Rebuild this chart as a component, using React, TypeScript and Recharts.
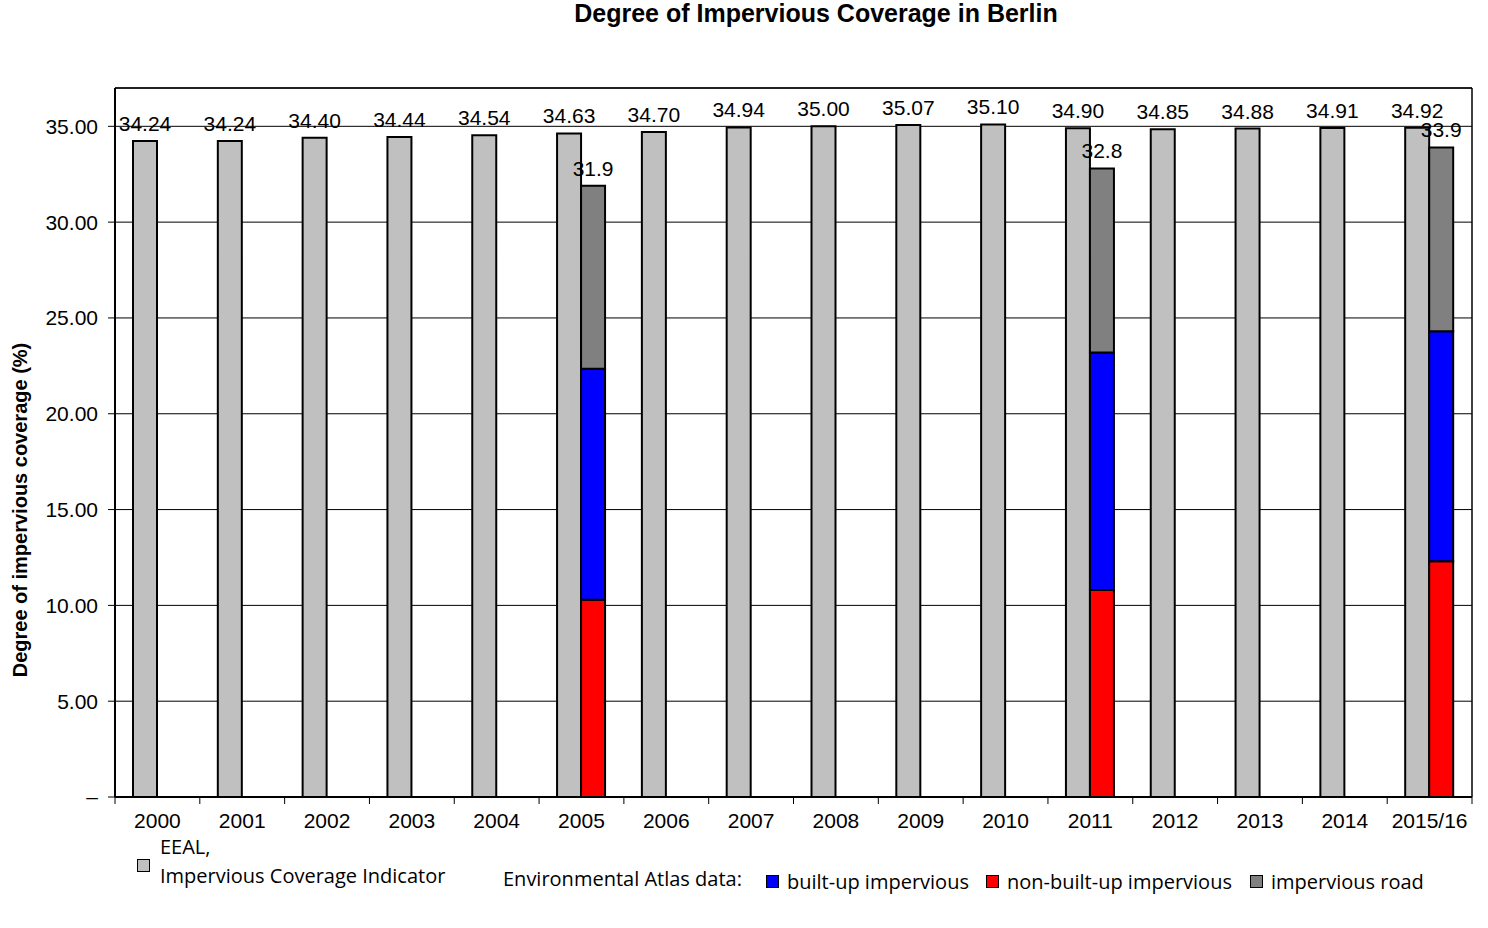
import React from 'react';
import {
  BarChart,
  Bar,
  XAxis,
  YAxis,
  CartesianGrid,
  ReferenceLine,
  LabelList,
} from 'recharts';

// EEAL impervious coverage indicator, one value per year
const years = [
  '2000', '2001', '2002', '2003', '2004', '2005', '2006', '2007',
  '2008', '2009', '2010', '2011', '2012', '2013', '2014', '2015/16',
];
const eeal = [
  34.24, 34.24, 34.4, 34.44, 34.54, 34.63, 34.7, 34.94,
  35.0, 35.07, 35.1, 34.9, 34.85, 34.88, 34.91, 34.92,
];

// Environmental Atlas survey years, split into three parts
const atlasYears = ['2005', '2011', '2015/16'];
const nonBuiltUp = [10.3, 10.8, 12.3];
const builtUp = [12.05, 12.4, 12.0];
const atlasTotal = [31.9, 32.8, 33.9];

const yTicks = [0, 5, 10, 15, 20, 25, 30, 35];

const data = years.map((year, i) => {
  const j = atlasYears.indexOf(year);
  if (j < 0) return { year, eeal: eeal[i] };
  return {
    year,
    eeal: eeal[i],
    nonBuiltUp: nonBuiltUp[j],
    builtUp: builtUp[j],
    road: +(atlasTotal[j] - nonBuiltUp[j] - builtUp[j]).toFixed(2),
    total: atlasTotal[j],
  };
});

const FONT = '"Liberation Sans", Arial, sans-serif';
const LEGEND_FONT = '"Open Sans", "Noto Sans", sans-serif';

// category tick: label centred, tick marks on the band boundaries
const YearTick = (props: any) => {
  const { x, y, payload, index, visibleTicksCount } = props;
  const half = payload?.offset ?? 42.4;
  const axisY = y - 8;
  const last = index === (visibleTicksCount ?? years.length) - 1;
  return (
    <g>
      <line x1={x - half} x2={x - half} y1={axisY} y2={axisY + 7} stroke="#000" strokeWidth={1} />
      {last && (
        <line x1={x + half} x2={x + half} y1={axisY} y2={axisY + 7} stroke="#000" strokeWidth={1} />
      )}
      <text x={x} y={axisY + 31} textAnchor="middle" fontSize={21} fontFamily={FONT} fill="#000">
        {payload.value}
      </text>
    </g>
  );
};

const Swatch = ({ color }: { color: string }) => (
  <span
    style={{
      display: 'inline-block',
      width: 11,
      height: 11,
      background: color,
      border: '1.5px solid #000',
    }}
  />
);

const legendText: React.CSSProperties = {
  fontFamily: LEGEND_FONT,
  fontSize: 20,
  lineHeight: '29px',
  whiteSpace: 'nowrap',
  color: '#000',
};

export default function App() {
  return (
    <div style={{ position: 'absolute', left: 0, top: 0, width: 1488, height: 928, background: '#fff' }}>
      <div style={{ position: 'absolute', left: 0, top: 0 }}>
        <BarChart
          width={1488}
          height={840}
          data={data}
          margin={{ top: 88, right: 15, bottom: 3, left: 0 }}
          barSize={24}
          barGap={0}
        >
          <CartesianGrid vertical={false} stroke="#000" strokeWidth={1} />
          <XAxis
            dataKey="year"
            height={40}
            axisLine={{ stroke: '#000', strokeWidth: 2 }}
            tickLine={false}
            tickSize={6}
            tickMargin={2}
            interval={0}
            tick={<YearTick />}
          />
          <YAxis
            width={115}
            domain={[0, 37]}
            ticks={yTicks}
            allowDataOverflow
            axisLine={{ stroke: '#000', strokeWidth: 2 }}
            tickLine={{ stroke: '#000' }}
            tickSize={7}
            tickMargin={10}
            tick={{ fontSize: 21, fontFamily: FONT, fill: '#000' }}
            tickFormatter={(v: number) => (v === 0 ? '–' : v.toFixed(2))}
          />
          <YAxis
            yAxisId="frame"
            orientation="right"
            width={1}
            domain={[0, 37]}
            tick={false}
            tickLine={false}
            axisLine={{ stroke: '#000', strokeWidth: 1.5 }}
          />
          <ReferenceLine y={37} stroke="#000" strokeWidth={1.5} />

          <Bar dataKey="eeal" stackId="a-eeal" fill="#c0c0c0" stroke="#000" strokeWidth={2} isAnimationActive={false}>
            <LabelList
              dataKey="eeal"
              position="top"
              offset={10}
              fontSize={21}
              fontFamily={FONT}
              fill="#000"
              formatter={(v: any) => (v == null ? '' : Number(v).toFixed(2))}
            />
          </Bar>
          <Bar dataKey="nonBuiltUp" stackId="b-atlas" fill="#ff0000" stroke="#000" strokeWidth={2} isAnimationActive={false} />
          <Bar dataKey="builtUp" stackId="b-atlas" fill="#0000ff" stroke="#000" strokeWidth={2} isAnimationActive={false} />
          <Bar dataKey="road" stackId="b-atlas" fill="#808080" stroke="#000" strokeWidth={2} isAnimationActive={false}>
            <LabelList
              dataKey="total"
              position="top"
              offset={10}
              fontSize={21}
              fontFamily={FONT}
              fill="#000"
              formatter={(v: any) => (v == null ? '' : Number(v).toFixed(1))}
            />
          </Bar>
        </BarChart>
      </div>

      <div
        style={{
          position: 'absolute',
          left: 816,
          top: 0,
          transform: 'translateX(-50%)',
          fontFamily: FONT,
          fontWeight: 'bold',
          fontSize: 25,
          lineHeight: '26px',
          whiteSpace: 'nowrap',
        }}
      >
        Degree of Impervious Coverage in Berlin
      </div>

      <div
        style={{
          position: 'absolute',
          left: 20,
          top: 510,
          transform: 'translate(-50%, -50%) rotate(-90deg)',
          fontFamily: FONT,
          fontWeight: 'bold',
          fontSize: 20,
          lineHeight: '24px',
          whiteSpace: 'nowrap',
        }}
      >
        Degree of impervious coverage (%)
      </div>

      {/* legend */}
      <div style={{ position: 'absolute', left: 137, top: 858 }}>
        <Swatch color="#c0c0c0" />
      </div>
      <div style={{ ...legendText, position: 'absolute', left: 160, top: 832 }}>
        EEAL,
        <br />
        Impervious Coverage Indicator
      </div>
      <div style={{ ...legendText, position: 'absolute', left: 503, top: 864 }}>
        Environmental Atlas data:
      </div>
      {[
        { color: '#0000ff', text: 'built-up impervious', left: 766 },
        { color: '#ff0000', text: 'non-built-up impervious', left: 986 },
        { color: '#808080', text: 'impervious road', left: 1250 },
      ].map((item) => (
        <div
          key={item.text}
          style={{
            ...legendText,
            position: 'absolute',
            left: item.left,
            top: 867,
            display: 'flex',
            alignItems: 'center',
            gap: 8,
          }}
        >
          <Swatch color={item.color} />
          <span>{item.text}</span>
        </div>
      ))}
    </div>
  );
}
